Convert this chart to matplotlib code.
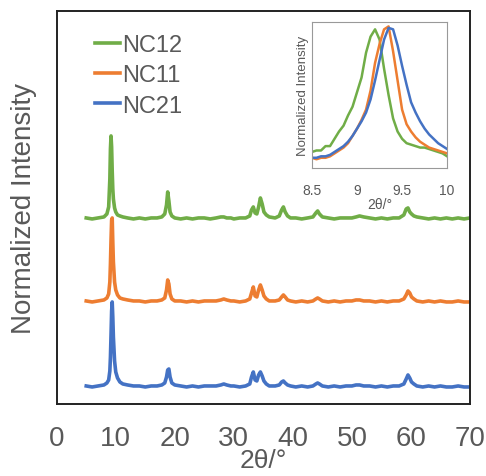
import matplotlib
matplotlib.use('Agg')
from matplotlib import pyplot as plt

plt.rcParams['font.family'] = ['Liberation Sans', 'DejaVu Sans']

# main pattern, 2theta grid shared by all three samples
two_theta = [5, 6, 7, 8, 8.5, 8.8, 9.0, 9.1, 9.2, 9.3, 9.4, 9.5, 9.6, 9.8, 10.0,
             10.3, 10.7, 11.2, 12, 13, 14, 15, 16, 17, 17.8, 18.3, 18.6, 18.8,
             19.0, 19.2, 19.5, 20, 21, 22, 23, 24, 25, 26, 27, 27.8, 28.3, 28.8,
             29.5, 30, 31, 32, 32.7, 33.0, 33.3, 33.6, 33.9, 34.2, 34.5, 34.8,
             35.1, 35.5, 36, 37, 37.7, 38.1, 38.4, 38.7, 39.1, 39.6, 40.5, 41.5,
             42.5, 43.4, 43.9, 44.2, 44.5, 45, 46, 47, 48, 49, 50, 50.7, 51.3,
             52, 53, 54, 55, 56, 57, 58, 58.8, 59.2, 59.5, 59.8, 60.1, 60.5, 61,
             62, 63, 64, 65, 66, 67, 68, 69, 70]

nc12 = [1, 0, 1, 2, 5, 12, 40, 70, 83, 72, 48, 30, 20, 11, 7,
        4, 3, 2, 1, 0, 1, 0, 1, 1, 2, 5, 14, 27,
        18, 7, 3, 1, 0, 1, 0, 1, 1, 0, 1, 2, 2, 1,
        1, 0, 1, 1, 3, 9, 12, 6, 5, 12, 21, 15,
        7, 4, 2, 1, 3, 9, 12, 7, 3, 1, 1, 0,
        1, 2, 6, 8, 5, 2, 1, 0, 1, 1, 1, 2, 3,
        2, 1, 0, 1, 0, 1, 1, 4, 10, 11, 7, 5, 3, 2,
        1, 0, 1, 0, 1, 0, 1, 0, 1]

nc11 = [1, 0, 1, 2, 4, 8, 20, 38, 62, 82, 84, 60, 40, 20, 12,
        7, 4, 3, 2, 1, 1, 0, 1, 1, 2, 4, 12, 22,
        18, 8, 3, 1, 1, 0, 1, 0, 1, 1, 1, 2, 3, 2,
        1, 1, 0, 1, 3, 9, 15, 6, 5, 12, 17, 12,
        6, 3, 1, 1, 2, 5, 7, 5, 2, 1, 0, 1,
        0, 1, 3, 4, 3, 1, 0, 1, 0, 1, 1, 2, 2,
        1, 1, 0, 1, 0, 1, 1, 3, 7, 11, 9, 5, 3, 1,
        0, 1, 0, 1, 0, 0, 1, 0, 0]

nc21 = [1, 0, 1, 2, 4, 7, 16, 30, 52, 76, 85, 70, 50, 26, 15,
        9, 5, 3, 2, 1, 1, 0, 1, 1, 2, 4, 10, 17,
        18, 10, 4, 2, 1, 0, 1, 0, 1, 1, 1, 2, 3, 2,
        1, 1, 0, 1, 3, 10, 15, 7, 6, 12, 15, 11,
        6, 3, 1, 1, 2, 5, 6, 4, 2, 1, 0, 1,
        0, 1, 3, 4, 3, 1, 0, 1, 0, 1, 1, 2, 2,
        1, 1, 0, 1, 0, 1, 1, 3, 8, 12, 9, 5, 3, 1,
        0, 1, 0, 1, 0, 0, 1, 0, 0]

offsets = [185, 102, 17]

# inset, zoom on the first reflection
inset_theta = [8.5, 8.55, 8.6, 8.65, 8.7, 8.75, 8.8, 8.85, 8.9, 8.95, 9.0,
               9.05, 9.1, 9.15, 9.2, 9.25, 9.3, 9.35, 9.4, 9.45, 9.5, 9.55,
               9.6, 9.65, 9.7, 9.75, 9.8, 9.85, 9.9, 9.95, 10.0]
inset_nc12 = [0.11, 0.12, 0.12, 0.15, 0.15, 0.2, 0.25, 0.29, 0.36, 0.42, 0.52,
              0.62, 0.79, 0.9, 0.95, 0.88, 0.68, 0.5, 0.34, 0.25, 0.2, 0.17,
              0.16, 0.15, 0.14, 0.14, 0.13, 0.12, 0.11, 0.1, 0.08]
inset_nc11 = [0.07, 0.06, 0.07, 0.07, 0.08, 0.1, 0.12, 0.14, 0.17, 0.22, 0.27,
              0.33, 0.4, 0.53, 0.72, 0.85, 0.95, 0.97, 0.8, 0.6, 0.4, 0.3,
              0.25, 0.21, 0.18, 0.16, 0.14, 0.13, 0.12, 0.11, 0.1]
inset_nc21 = [0.07, 0.07, 0.08, 0.08, 0.09, 0.11, 0.13, 0.15, 0.18, 0.22, 0.27,
              0.32, 0.38, 0.47, 0.6, 0.74, 0.88, 0.96, 0.95, 0.84, 0.7, 0.57,
              0.45, 0.38, 0.32, 0.27, 0.23, 0.2, 0.17, 0.15, 0.13]

labels = ["NC12", "NC11", "NC21"]
colors = ["#70AD47", "#ED7D31", "#4472C4"]
grey = "#595959"


def main():
    fig = plt.figure(figsize=(4.86, 4.77), dpi=100)
    ax = fig.add_axes([0.1167, 0.151, 0.8503, 0.824])

    series = [nc12, nc11, nc21]
    for ys, off, lab, col in zip(series, offsets, labels, colors):
        ax.plot(two_theta, [y + off for y in ys], color=col, lw=2.6, label=lab)

    ax.set_xlim(0, 70)
    ax.set_ylim(0, 393)
    ax.set_xticks([0, 10, 20, 30, 40, 50, 60, 70])
    ax.set_yticks([])
    ax.tick_params(axis='x', length=0, pad=15, labelsize=20, labelcolor=grey)
    ax.set_xlabel("2θ/°", fontsize=19, color=grey, labelpad=-2)
    ax.set_ylabel("Normalized Intensity", fontsize=20, color=grey, labelpad=14)
    for sp in ax.spines.values():
        sp.set_linewidth(1.4)
        sp.set_color("#222222")

    leg = ax.legend(loc='upper left', bbox_to_anchor=(0.07, 0.965), frameon=False,
                    fontsize=17, handlelength=1.05, handletextpad=0.1,
                    labelspacing=0.35, borderaxespad=0)
    for t in leg.get_texts():
        t.set_color(grey)

    ins = fig.add_axes([0.642, 0.6457, 0.278, 0.306])
    for ys, col in zip([inset_nc12, inset_nc11, inset_nc21], colors):
        ins.plot(inset_theta, ys, color=col, lw=1.8)
    ins.set_xlim(8.5, 10)
    ins.set_ylim(0, 1)
    ins.set_xticks([8.5, 9, 9.5, 10])
    ins.set_xticklabels(["8.5", "9", "9.5", "10"])
    ins.set_yticks([])
    ins.tick_params(axis='x', length=0, pad=11, labelsize=10, labelcolor=grey)
    ins.set_xlabel("2θ/°", fontsize=10, color=grey, labelpad=0)
    ins.set_ylabel("Normalized Intensity", fontsize=9.5, color=grey, labelpad=2)
    for sp in ins.spines.values():
        sp.set_linewidth(0.8)
        sp.set_color("#999999")

    fig.savefig("out.png", dpi=100)


if __name__ == '__main__':
    main()
